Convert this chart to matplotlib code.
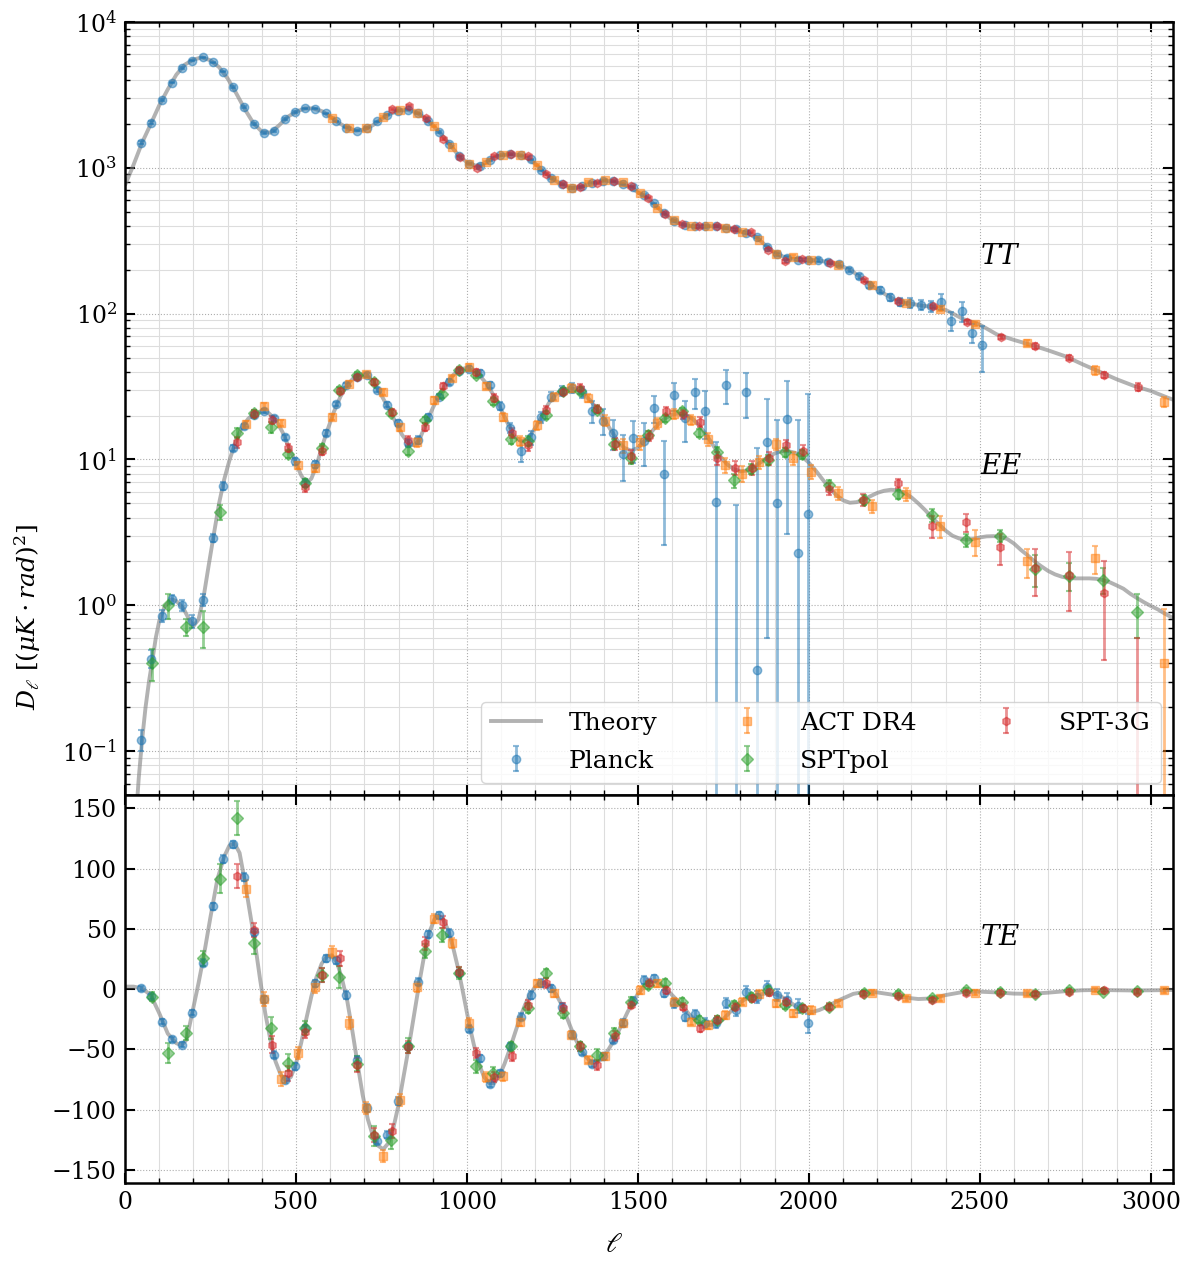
import matplotlib
matplotlib.use('Agg')
import matplotlib.pyplot as plt
from matplotlib.ticker import MultipleLocator

plt.rcParams['font.family'] = 'DejaVu Serif'
plt.rcParams['mathtext.fontset'] = 'dejavuserif'

# --- theory curves ---
tt_ell = [2, 25, 50, 75, 100, 125, 150, 175, 200, 225, 250, 275, 300, 325, 350, 375, 400, 425, 450, 475,
          500, 525, 550, 575, 600, 625, 650, 675, 700, 725, 750, 775, 800, 825, 850, 875, 900, 925, 950, 975,
          1000, 1025, 1050, 1075, 1100, 1125, 1150, 1175, 1200, 1225, 1250, 1275, 1300, 1325, 1350, 1375,
          1400, 1425, 1450, 1475, 1500, 1525, 1550, 1575, 1600, 1625, 1650, 1675, 1700, 1725, 1750, 1775,
          1800, 1825, 1850, 1875, 1900, 1925, 1950, 1975, 2000, 2025, 2050, 2075, 2100, 2125, 2150, 2175,
          2200, 2225, 2250, 2275, 2300, 2325, 2350, 2375, 2400, 2425, 2450, 2475, 2500, 2550, 2600, 2650,
          2700, 2750, 2800, 2850, 2900, 2950, 3000, 3050, 3100]
tt_theory = [780, 1050, 1490, 1990, 2680, 3450, 4350, 5100, 5520, 5720, 5450, 4900, 4100, 3250, 2530, 2030, 1770, 1740, 1950, 2230,
             2420, 2550, 2555, 2450, 2250, 2030, 1880, 1800, 1830, 1960, 2160, 2340, 2460, 2500, 2410, 2220, 1960, 1700, 1440, 1220,
             1090, 1035, 1070, 1160, 1225, 1240, 1225, 1165, 1065, 940, 840, 775, 730, 730, 760, 795,
             815, 810, 780, 740, 680, 625, 555, 490, 440, 412, 398, 395, 397, 397, 390, 380,
             368, 352, 328, 292, 262, 246, 238, 235, 233, 232, 227, 220, 210, 197, 178, 160,
             147, 135, 125, 120, 117, 114, 112, 109, 106, 99, 92, 88, 84, 72, 66, 61,
             56, 51, 45, 40, 35.5, 32, 29.5, 26.5, 24]

ee_ell = [30, 40, 50, 60, 70, 80, 90, 100, 115, 135, 150, 170, 185, 200, 215, 230, 245, 260, 275, 290,
          305, 320, 340, 360, 380, 400, 420, 440, 460, 480, 500, 515, 530, 545, 560, 575, 590, 610, 630, 650,
          670, 690, 710, 730, 750, 770, 790, 810, 830, 845, 860, 880, 900, 920, 940, 960, 980, 1000, 1020, 1040,
          1060, 1080, 1100, 1120, 1140, 1160, 1180, 1200, 1220, 1240, 1260, 1280, 1300, 1320, 1340, 1360,
          1380, 1400, 1420, 1440, 1460, 1480, 1500, 1520, 1540, 1560, 1580, 1600, 1620, 1640, 1660, 1680,
          1700, 1720, 1740, 1760, 1780, 1800, 1820, 1840, 1860, 1880, 1900, 1920, 1940, 1960, 1980, 2000,
          2020, 2040, 2060, 2080, 2100, 2120, 2140, 2160, 2180, 2200, 2220, 2240, 2260, 2280, 2300, 2320,
          2340, 2360, 2380, 2400, 2420, 2440, 2460, 2480, 2500, 2520, 2540, 2560, 2580, 2600, 2620, 2640,
          2660, 2680, 2700, 2720, 2740, 2760, 2780, 2800, 2820, 2840, 2860, 2880, 2900, 2920, 2940, 2960,
          2980, 3000, 3020, 3040, 3060, 3080]
ee_theory = [0.03, 0.065, 0.12, 0.2, 0.3, 0.42, 0.6, 0.78, 0.97, 1.1, 1.07, 0.96, 0.82, 0.72, 0.8, 1.15, 1.9, 3.1, 5.0, 7.3,
             9.8, 12.6, 16.3, 19.0, 20.8, 21.5, 20.8, 18.8, 15.5, 12.0, 9.4, 7.8, 6.9, 7.4, 9.1, 12.0, 15.4, 21.0, 27.0, 32.5,
             36.5, 38.5, 37.5, 33.0, 27.5, 22.5, 18.3, 14.8, 12.8, 12.5, 13.5, 17.5, 22.5, 28.0, 33.5, 38.0, 41.5, 42.5, 40.5, 37.0,
             32.5, 27.0, 22.0, 17.5, 14.3, 13.3, 14.0, 16.5, 20.0, 24.5, 28.0, 30.0, 30.8, 30.2, 28.2, 25.5,
             22.3, 19.0, 16.0, 13.5, 12.0, 11.5, 12.0, 13.5, 15.5, 17.5, 19.2, 20.3, 20.7, 20.3, 19.0, 17.0,
             14.8, 12.5, 10.6, 9.3, 8.6, 8.3, 8.4, 8.9, 9.6, 10.4, 11.0, 11.4, 11.4, 11.1, 10.5, 9.5,
             8.4, 7.3, 6.4, 5.7, 5.25, 5.05, 5.1, 5.3, 5.6, 5.9, 6.1, 6.2, 6.15, 5.9, 5.5, 5.0,
             4.5, 4.0, 3.6, 3.25, 3.0, 2.87, 2.82, 2.85, 2.92, 2.97, 2.98, 2.95, 2.85, 2.65, 2.4, 2.2,
             2.0, 1.85, 1.72, 1.63, 1.57, 1.54, 1.53, 1.53, 1.53, 1.52, 1.49, 1.44, 1.37, 1.3, 1.2, 1.12,
             1.05, 0.99, 0.94, 0.88, 0.83, 0.8]

te_ell = [0, 25, 50, 75, 100, 125, 150, 165, 180, 200, 215, 230, 250, 270, 290, 305, 320, 335, 350, 365,
          380, 395, 410, 425, 440, 455, 470, 485, 500, 515, 530, 545, 560, 575, 590, 605, 620, 635, 650, 665,
          680, 695, 710, 725, 740, 755, 770, 785, 800, 815, 830, 845, 860, 875, 890, 905, 915, 930, 945, 960,
          975, 990, 1005, 1020, 1035, 1050, 1065, 1080, 1095, 1110, 1125, 1140, 1155, 1170, 1185, 1200, 1215, 1230,
          1245, 1260, 1275, 1290, 1305, 1320, 1335, 1350, 1365, 1380, 1395, 1410, 1425, 1440, 1455, 1470, 1485,
          1500, 1515, 1530, 1545, 1560, 1575, 1590, 1610, 1630, 1650, 1670, 1690, 1710, 1730, 1750, 1770, 1790,
          1810, 1830, 1850, 1870, 1890, 1910, 1930, 1950, 1970, 1990, 2010, 2030, 2050, 2070, 2090, 2110, 2130,
          2160, 2200, 2240, 2280, 2320, 2360, 2400, 2450, 2500, 2550, 2600, 2650, 2700, 2750, 2800, 2850, 2900,
          2950, 3000, 3070]
te_theory = [2, 2, 0.5, -5, -20, -37, -45, -46.5, -42, -15, 5, 27, 60, 91, 110, 119, 121, 113, 90, 64,
             38, 8, -20, -42, -60, -71, -76, -73, -62, -45, -25, -6, 10, 21, 27, 28, 22, 8, -10, -35,
             -62, -88, -108, -122, -130, -133, -128, -115, -96, -72, -48, -22, 4, 28, 47, 58, 61, 58, 49, 34,
             16, -5, -27, -46, -62, -73, -78, -78, -72, -62, -50, -37, -24, -13, -4, 2, 5, 5,
             2, -4, -12, -22, -33, -43, -51, -57, -61, -61, -58, -52, -45, -37, -28, -19, -11,
             -4, 1, 5, 6.5, 5, 2, -2, -8, -14, -21, -26, -29, -30, -29, -25, -19, -13,
             -9, -6.5, -5, -3.8, -3.5, -5, -8, -12, -16, -18.5, -19, -17.5, -15, -12, -9, -6.5, -4,
             -2.5, -2.8, -4.5, -7, -8.3, -7.8, -5, -2.5, -2.2, -2.8, -3.8, -4, -3, -1.8, -1, -0.8, -1,
             -1.2, -1, -0.8]

# --- Planck ---
planck_ell = [47, 77, 107, 137, 167, 197, 227, 257, 287, 317, 347, 377, 407, 437, 467, 497, 527, 557, 587, 617,
              647, 677, 707, 737, 767, 797, 827, 857, 887, 917, 947, 977, 1007, 1037, 1067, 1097, 1127, 1157, 1187, 1217,
              1247, 1277, 1307, 1337, 1367, 1397, 1427, 1457, 1487, 1517, 1547, 1577, 1607, 1637, 1667, 1697, 1727, 1757,
              1787, 1817, 1847, 1877, 1907, 1937, 1967, 1997, 2027, 2057, 2087, 2117, 2147, 2177, 2207, 2237, 2267, 2297,
              2327, 2357, 2387, 2417, 2447, 2477, 2507]
planck_tt = [1490, 2035, 2920, 3840, 4820, 5430, 5730, 5290, 4570, 3570,
             2600, 2000, 1740, 1790, 2160, 2410, 2560, 2540, 2370, 2080,
             1880, 1800, 1880, 2080, 2310, 2470, 2500, 2370, 2090, 1760,
             1460, 1200, 1070, 1030, 1130, 1215, 1235, 1215, 1140, 960,
             850, 770, 725, 745, 790, 815, 808, 770, 740, 650,
             570, 490, 430, 405, 396, 396, 397, 388, 378, 360,
             335, 285, 255, 240, 235, 233, 232, 225, 218, 200,
             180, 158, 145, 130, 121, 118, 115, 113, 121, 89,
             104, 74, 61]
planck_tt_err = [40, 45, 50, 55, 60, 60, 60, 55, 50, 45,
                 35, 30, 25, 25, 25, 25, 25, 25, 22, 20,
                 18, 18, 18, 20, 22, 22, 22, 20, 20, 18,
                 15, 13, 12, 12, 12, 12, 12, 12, 12, 10,
                 9, 8, 8, 8, 8, 8, 8, 8, 8, 8,
                 8, 7, 7, 7, 7, 7, 7, 7, 7, 7,
                 7, 7, 7, 7, 7, 7, 7, 7, 7, 7,
                 7, 7, 7, 7, 8, 9, 9, 10, 15, 13,
                 16, 11, 21]
planck_pol_ell = planck_ell[:66]
planck_ee = [0.12, 0.43, 0.85, 1.1, 1.0, 0.78, 1.09, 2.9, 6.6, 12.0,
             16.9, 20.3, 21.5, 19.1, 14.2, 9.7, 6.9, 9.3, 15.2, 24,
             32.6, 37, 38, 30, 23.8, 17.8, 13, 13.6, 19.5, 27,
             34, 40.5, 42, 39.3, 32.5, 23.2, 16.5, 11.5, 14.2, 19.5,
             27, 29.5, 31, 29, 21.4, 18.5, 15.2, 10.9, 14.0, 13.4,
             22.5, 8.0, 27.5, 19.1, 29, 21.6, 5.1, 32.6, -4.5, 29.1,
             0.36, 13.2, 5.06, 18.8, 2.27, 4.2]
planck_ee_err = [0.02, 0.06, 0.08, 0.08, 0.08, 0.08, 0.1, 0.2, 0.4, 0.6,
                 0.7, 0.8, 0.8, 0.8, 0.6, 0.5, 0.4, 0.5, 0.7, 0.9,
                 1.1, 1.2, 1.2, 1.1, 1.0, 0.9, 0.8, 0.8, 1.0, 1.2,
                 1.4, 1.5, 1.6, 1.6, 1.5, 1.4, 1.4, 1.9, 1.6, 1.8,
                 2.0, 2.2, 2.4, 2.6, 3.7, 3.7, 3.5, 3.8, 4.5, 4.4,
                 4.7, 5.4, 6.0, 6.0, 6.7, 7.8, 8.0, 8.7, 9.4, 10,
                 11.7, 12.6, 13.6, 15.7, 16.4, 23.7]
planck_te = [0.5, -6, -27, -41.6, -46.3, -19.6, 22, 68.7, 108, 120,
             93, 47, -8.5, -54.6, -75.3, -64.3, -32.5, 4.7, 25.4, 24,
             -5, -58.7, -98.7, -126, -121, -93, -47.7, 6, 45.5, 61.2,
             46.6, 13, -33, -57.4, -78.6, -70, -47.7, -23, -5, 5,
             0.5, -15, -38, -52, -62, -56, -42, -28, -10, 7.5,
             8.8, -3.6, -12, -22.9, -21, -28.4, -28, -11.8, -17.4, -2.2,
             -6.3, 1.9, -5, -9.1, -14, -28.4]
planck_te_err = [2, 2, 2, 2, 2, 2, 3, 3, 3, 3,
                 3, 3, 3, 3, 3, 3, 3, 3, 3, 3,
                 3, 3, 3, 3, 3, 3, 3, 3, 3, 3,
                 3, 3, 3, 3, 3, 3, 3, 3, 3, 3,
                 3, 3, 3, 3, 3, 3, 3, 3, 3, 3,
                 3, 3, 4, 4, 4, 4, 4, 4, 5, 5,
                 5, 5, 5, 6, 6, 8]

# --- ACT DR4 ---
act_tt_ell = [605, 655, 705, 755, 805, 855, 905, 955, 1005, 1055, 1105, 1155, 1205, 1255, 1305, 1355, 1405,
              1455, 1505, 1555, 1605, 1655, 1705, 1755, 1805, 1855, 1905, 1955, 2005,
              2085, 2185, 2285, 2385, 2485, 2637, 2838, 3038]
act_tt = [2200, 1860, 1870, 2230, 2480, 2390, 1930, 1390, 1060, 1090, 1230, 1230, 1040, 830, 725, 800, 830,
          795, 670, 530, 440, 400, 398, 385, 362, 320, 258, 246, 232,
          215, 158, 118, 108, 85, 63, 41, 24.8]
act_tt_err = [35, 30, 30, 30, 35, 35, 30, 25, 20, 20, 20, 20, 18, 15, 12, 12, 12,
              12, 10, 9, 8, 7, 7, 7, 7, 6, 5, 5, 5,
              5, 4, 3, 3, 3, 3, 3, 2]
act_pol_ell = [355, 405, 455, 505, 555, 605, 655, 705, 755, 805, 855, 905, 955, 1005, 1055, 1105, 1155,
               1205, 1255, 1305, 1355, 1405, 1455, 1505, 1555, 1605, 1655, 1705, 1755, 1805, 1855, 1905,
               1955, 2005, 2085, 2185, 2285, 2385, 2485, 2637, 2838, 3038]
act_ee = [17.5, 23.3, 17.8, 9.1, 8.7, 19.5, 33, 38.5, 29, 16.6, 13.1, 25.5, 36, 43, 32, 19.6, 13.4,
          17.2, 27, 31, 26.4, 18.5, 12.5, 13.1, 17.8, 20.6, 18.7, 13.8, 9.2, 8.0, 9.6, 12.8,
          10.2, 8.2, 5.9, 4.8, 5.8, 3.5, 2.72, 2.0, 2.1, 0.40]
act_ee_err = [0.8, 1.0, 0.9, 0.5, 0.5, 0.9, 1.3, 1.5, 1.3, 1.0, 0.9, 1.3, 1.6, 1.8, 1.6, 1.3, 1.1,
              1.3, 1.6, 1.8, 1.8, 1.6, 1.4, 1.4, 1.5, 1.6, 1.6, 1.4, 1.1, 1.0, 1.0, 1.1,
              1.0, 0.9, 0.6, 0.5, 0.6, 0.6, 0.55, 0.45, 0.45, 0.55]
act_te = [83.3, -8.5, -74.7, -53.2, 1.9, 30.9, -28.4, -98.7, -138.7, -91.8, 1.9, 58.5, 38.3, -28.4, -73, -72.5, -27,
          4.7, -3.6, -38, -58.7, -56, -28.4, -0.8, 4.7, -10.5, -27, -29.8, -21.5, -10.5, -4.1, -11.8,
          -20, -17.4, -11.8, -3, -7.7, -7.7, -3, -3.6, -0.8, -1.2]
act_te_err = [7, 6, 6, 5, 5, 5, 5, 5, 5, 5, 4, 4, 4, 4, 4, 4, 4,
              3, 3, 3, 3, 3, 3, 3, 3, 3, 3, 3, 3, 3, 3, 3,
              3, 3, 2, 2, 2, 2, 2, 2, 2, 2]

# --- SPTpol ---
sptpol_ell = [79, 127, 178, 227, 277, 327, 377, 427, 477, 527, 577, 627, 677, 727, 777, 827, 877, 927, 977, 1027,
              1077, 1130, 1180, 1230, 1280, 1330, 1380, 1430, 1480, 1530, 1580, 1630, 1680, 1730, 1780, 1830,
              1880, 1930, 1980, 2060, 2160, 2260, 2360, 2460, 2560, 2660, 2760, 2860, 2960]
sptpol_ee = [0.405, 1.0, 0.71, 0.71, 4.35, 15.2, 20.9, 16.7, 10.9, 6.9,
             12.0, 30, 38, 34, 20.9, 11.5, 18.7, 27.9, 41, 38,
             25.1, 13.8, 13.4, 20.2, 29.4, 29.7, 22, 12.8, 10.2, 14.8,
             19.1, 21.5, 15.2, 11.2, 7.2, 8.6, 9.9, 11.2, 10.9, 6.7,
             5.3, 5.8, 4.15, 2.8, 3.0, 1.78, 1.6, 1.5, 0.9]
sptpol_ee_err = [0.1, 0.2, 0.09, 0.2, 0.5, 1.2, 1.0, 1.5, 0.7, 0.4,
                 0.7, 1.2, 1.5, 1.4, 1.0, 0.8, 1.0, 1.3, 1.7, 1.7,
                 1.4, 1.0, 1.0, 1.2, 1.5, 1.5, 1.3, 1.0, 0.9, 1.0,
                 1.1, 1.2, 1.0, 0.9, 0.8, 0.7, 0.8, 0.8, 0.8, 0.5,
                 0.4, 0.4, 0.4, 0.3, 0.3, 0.45, 0.35, 0.3, 0.3]
sptpol_te = [-6.3, -53.2, -36.7, 25.4, 91.6, 142, 38.3, -32.5, -61, -32.5,
             11.6, 10.2, -62, -122, -125, -47, 31.7, 44.7, 13, -64.3,
             -70, -47.7, -16, 13, -20, -47.7, -54.6, -36.7, -10.5, 3.3,
             5.2, -10.5, -25.6, -25.6, -13.2, -6.3, -0.8, -13.2, -16, -14.6,
             -3, -4, -7.7, -0.8, -2.2, -4.1, -0.8, -2.2, -1.7]
sptpol_te_err = [4, 8, 6, 6, 12, 14, 9, 9, 7, 6,
                 6, 9, 6, 8, 8, 6, 6, 6, 5, 5,
                 5, 4, 4, 4, 4, 4, 5, 4, 4, 3,
                 3, 3, 3, 3, 3, 3, 3, 3, 3, 2,
                 2, 2, 2, 2, 2, 2, 2, 2, 2]

# --- SPT-3G ---
spt3g_tt_ell = [780, 830, 880, 930, 980, 1030, 1080, 1130, 1180, 1230, 1280, 1330, 1380, 1430, 1480, 1530,
                1580, 1630, 1680, 1730, 1780, 1830, 1880, 1930, 1980, 2062, 2162, 2262, 2362, 2462, 2562,
                2662, 2762, 2862, 2962]
spt3g_tt = [2540, 2660, 2200, 1580, 1180, 1000, 1200, 1235, 1200, 910, 770, 735, 790, 810, 745, 625,
            485, 410, 396, 397, 378, 365, 275, 228, 236, 222, 170, 122, 112, 88, 69,
            60, 50, 38, 31.5]
spt3g_tt_err = [40, 40, 35, 30, 25, 20, 20, 20, 20, 15, 12, 12, 12, 12, 10, 9,
                8, 7, 7, 7, 7, 6, 5, 5, 5, 4, 4, 3, 3, 3, 2.5,
                2.5, 2, 2, 2]
spt3g_pol_ell = [326, 377, 429, 477, 527, 577, 629, 677, 727, 780, 828, 877, 929, 977, 1027, 1080, 1131,
                 1180, 1231, 1281, 1330, 1381, 1433, 1481, 1533, 1582, 1633, 1681, 1731, 1784, 1833, 1884,
                 1933, 1982, 2060, 2159, 2260, 2360, 2459, 2560, 2661, 2761, 2862, 2959]
spt3g_ee = [13.1, 20.5, 18.7, 12.0, 6.5, 11.5, 29.4, 37, 34, 21, 13.6, 16.7, 31.8, 41, 39.5, 26.4, 15.2,
            12.5, 22, 29.2, 31, 22.3, 12.8, 10.6, 14.6, 21.5, 20.5, 18.1, 10.2, 8.8, 8.8, 10.2,
            12.5, 11.5, 6.3, 5.3, 6.85, 3.5, 3.7, 2.5, 1.8, 1.62, 1.22, -0.5]
spt3g_ee_err = [1.2, 1.2, 1.2, 0.8, 0.5, 0.8, 1.5, 1.8, 1.6, 1.2, 1.0, 1.1, 1.6, 1.9, 1.9, 1.5, 1.2,
                1.1, 1.4, 1.6, 1.7, 1.5, 1.2, 1.1, 1.2, 1.5, 1.5, 1.4, 1.1, 1.0, 1.0, 1.0,
                1.1, 1.0, 0.6, 0.5, 0.5, 0.6, 0.5, 0.6, 0.65, 0.7, 0.8, 1.1]
spt3g_te = [93.5, 48.8, -46.3, -70, -36, 11.6, 25.4, -63, -121, -118, -48, 37.8, 55.7, 14, -53, -73, -56,
            -13.2, 5.2, -16, -47.7, -62.9, -39, -13, 5.2, -1, -14.6, -32.5, -25.6, -14.6, -7.7, -2.8,
            -10.5, -16, -14.6, -4, -5.5, -9.1, -3, -3, -4, -2.2, -0.8, -2.2]
spt3g_te_err = [10, 6, 7, 6, 5, 6, 6, 6, 6, 6, 5, 5, 5, 4, 4, 4, 4,
                4, 4, 4, 4, 4, 4, 3, 3, 3, 3, 3, 3, 3, 3, 3,
                3, 3, 3, 2, 2, 2, 2, 2, 2, 2, 2, 2]

fig = plt.figure(figsize=(12, 12.62), dpi=100)
ax1 = fig.add_axes([0.1042, 0.3700, 0.8733, 0.6126])
ax2 = fig.add_axes([0.1042, 0.0626, 0.8733, 0.3074], sharex=ax1)

theory_kw = dict(color='gray', alpha=0.6, lw=2.8, zorder=1)
eb_kw = dict(ls='none', alpha=0.5, capsize=2.5, capthick=1.5, elinewidth=2, markersize=6, zorder=2)

line_th, = ax1.plot(tt_ell, tt_theory, label='Theory', **theory_kw)
ax1.plot(ee_ell, ee_theory, **theory_kw)
ax2.plot(te_ell, te_theory, **theory_kw)

h_planck = ax1.errorbar(planck_ell, planck_tt, yerr=planck_tt_err, fmt='o', color='tab:blue', label='Planck', **eb_kw)
ax1.errorbar(planck_pol_ell, planck_ee, yerr=planck_ee_err, fmt='o', color='tab:blue', **eb_kw)
ax2.errorbar(planck_pol_ell, planck_te, yerr=planck_te_err, fmt='o', color='tab:blue', **eb_kw)

h_act = ax1.errorbar(act_tt_ell, act_tt, yerr=act_tt_err, fmt='s', color='tab:orange', label='ACT DR4', **eb_kw)
ax1.errorbar(act_pol_ell, act_ee, yerr=act_ee_err, fmt='s', color='tab:orange', **eb_kw)
ax2.errorbar(act_pol_ell, act_te, yerr=act_te_err, fmt='s', color='tab:orange', **eb_kw)

h_sptpol = ax1.errorbar(sptpol_ell, sptpol_ee, yerr=sptpol_ee_err, fmt='D', color='tab:green', label='SPTpol', **eb_kw)
ax2.errorbar(sptpol_ell, sptpol_te, yerr=sptpol_te_err, fmt='D', color='tab:green', **eb_kw)

h_spt3g = ax1.errorbar(spt3g_tt_ell, spt3g_tt, yerr=spt3g_tt_err, fmt='h', color='tab:red', label='SPT-3G', **eb_kw)
ax1.errorbar(spt3g_pol_ell, spt3g_ee, yerr=spt3g_ee_err, fmt='h', color='tab:red', **eb_kw)
ax2.errorbar(spt3g_pol_ell, spt3g_te, yerr=spt3g_te_err, fmt='h', color='tab:red', **eb_kw)

ax1.set_yscale('log')
ax1.set_ylim(0.05, 1e4)
ax1.set_xlim(0, 3065)
ax2.set_ylim(-161, 161)

for ax in (ax1, ax2):
    ax.xaxis.set_major_locator(MultipleLocator(500))
    ax.xaxis.set_minor_locator(MultipleLocator(100))
    ax.tick_params(which='both', direction='in', top=True, right=True, labelsize=17)
    ax.tick_params(which='major', length=7, width=1.5, pad=6)
    ax.tick_params(which='minor', length=3.5, width=1)
    ax.grid(which='major', color='#999999', ls=':', lw=0.8, alpha=0.8)
    ax.grid(which='minor', color='#dddddd', ls='-', lw=0.8)
    for s in ax.spines.values():
        s.set_linewidth(1.8)
    ax.set_axisbelow(True)

ax2.yaxis.set_major_locator(MultipleLocator(50))
ax2.yaxis.set_minor_locator(MultipleLocator(1000))
ax1.tick_params(labelbottom=False)

ax1.text(2500, 245, '$TT$', fontsize=20, va='center')
ax1.text(2500, 9.0, '$EE$', fontsize=20, va='center')
ax2.text(2500, 43, '$TE$', fontsize=20, va='center')

fig.text(614 / 1200, 1 - 1245 / 1262, r'$\ell$', fontsize=20, ha='center', va='center')
fig.text(28 / 1200, 1 - 617 / 1262, r'$D_{\ell}$ $[(\mu K\cdot rad)^2]$', fontsize=18,
         ha='center', va='center', rotation=90)

ax1.legend([line_th, h_planck, h_act, h_sptpol, h_spt3g],
           ['Theory', 'Planck', 'ACT DR4', 'SPTpol', 'SPT-3G'],
           loc='lower right', ncol=3, fontsize=18, framealpha=0.8, columnspacing=2.6,
           handletextpad=1.1, labelspacing=0.6)

fig.savefig('out.png', dpi=100)
